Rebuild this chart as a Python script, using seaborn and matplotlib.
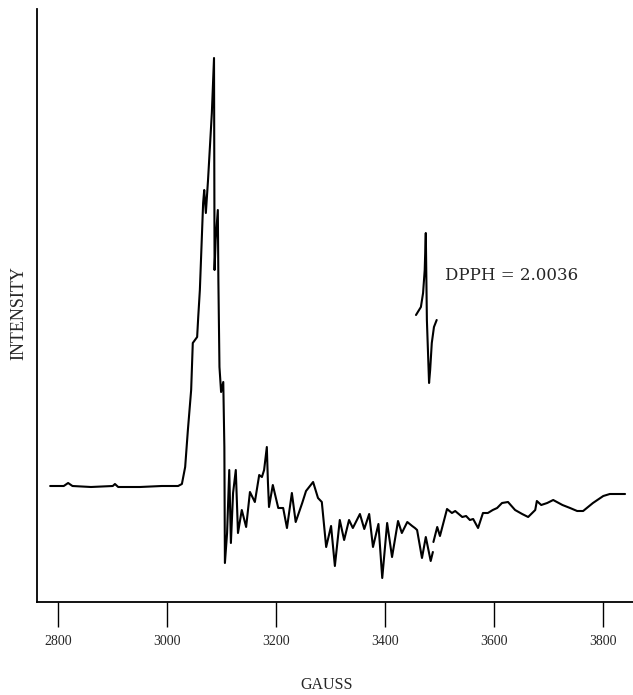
import matplotlib
matplotlib.use("Agg")
import matplotlib.pyplot as plt
import numpy as np
import pandas as pd
import seaborn as sns

# main spectrum, first trace (field in gauss, intensity in arbitrary units)
gauss_a = [2785, 2810, 2818, 2826, 2860, 2900, 2904, 2910, 2950, 2990, 3020, 3027,
           3033, 3038, 3044, 3047, 3055, 3057, 3060, 3066, 3068, 3071, 3075, 3082,
           3086, 3087, 3089, 3093, 3094, 3096, 3099, 3103, 3105, 3106, 3110, 3114,
           3117, 3121, 3126, 3130, 3137, 3145, 3152, 3161, 3169, 3174, 3178, 3183,
           3185, 3187, 3194, 3204, 3213, 3220, 3229, 3236, 3248, 3255, 3268, 3277,
           3284, 3292, 3301, 3308, 3317, 3325, 3334, 3341, 3354, 3362, 3371, 3378,
           3388, 3395, 3404, 3413, 3424, 3431, 3441, 3450, 3455, 3459, 3468, 3475,
           3484, 3488]
inten_a = [116, 116, 119, 116, 115, 116, 118, 115, 115, 116, 116, 118,
           135, 172, 212, 259, 265, 285, 312, 399, 412, 389, 422, 489,
           544, 332, 362, 392, 322, 235, 210, 220, 155, 39, 69, 132,
           59, 109, 132, 69, 92, 75, 110, 100, 127, 125, 132, 155,
           120, 95, 117, 94, 94, 74, 109, 80, 99, 111, 120, 104,
           100, 55, 76, 36, 82, 62, 82, 74, 88, 73, 88, 55,
           78, 24, 79, 45, 81, 69, 80, 76, 74, 72, 44, 65,
           41, 50]

# second trace after the pen break
gauss_b = [3489, 3496, 3501, 3514, 3523, 3529, 3542, 3549, 3556, 3562, 3571, 3580,
           3589, 3598, 3606, 3615, 3626, 3639, 3652, 3663, 3676, 3679, 3687, 3698,
           3709, 3726, 3740, 3753, 3764, 3782, 3801, 3813, 3841]
inten_b = [60, 75, 66, 93, 89, 91, 85, 86, 82, 83, 74, 89,
           89, 92, 94, 99, 100, 92, 88, 85, 92, 101, 97, 99,
           102, 97, 94, 91, 91, 99, 106, 108, 108]

# DPPH reference signal
gauss_dpph = [3457, 3466, 3470, 3473, 3475, 3477, 3481, 3483, 3486, 3490, 3495]
inten_dpph = [287, 295, 309, 332, 369, 282, 219, 232, 259, 275, 282]

xticks = [2800, 3000, 3200, 3400, 3600, 3800]

sns.set_style("ticks")
plt.rcParams["font.family"] = ["Liberation Serif", "DejaVu Serif"]

fig = plt.figure(figsize=(6.33, 6.95), dpi=100)
ax = fig.add_axes([37.3/633, 93/695, 1 - 37.3/633, 593/695])

for gx, gy in [(gauss_a, inten_a), (gauss_b, inten_b), (gauss_dpph, inten_dpph)]:
    df = pd.DataFrame({"gauss": gx, "intensity": gy})
    sns.lineplot(data=df, x="gauss", y="intensity", ax=ax, color="black",
                 lw=1.5, sort=False, estimator=None)

ax.set_xlim(2761.4, 3855.6)
ax.set_ylim(0, 593)
ax.set_xticks(xticks)
ax.set_xticklabels([str(t) for t in xticks], fontsize=10)
ax.set_yticks([])
ax.tick_params(axis="x", direction="out", length=18, width=1.0, pad=6, color="black")
sns.despine(ax=ax)
ax.spines["left"].set_linewidth(1.3)
ax.spines["bottom"].set_linewidth(1.3)
ax.spines["left"].set_color("black")
ax.spines["bottom"].set_color("black")

ax.set_xlabel("GAUSS", fontsize=11.5)
ax.xaxis.set_label_coords(0.4855, -0.126)
ax.set_ylabel("INTENSITY", fontsize=13)
ax.yaxis.set_label_coords(-0.0173, 0.487)

ax.text(3510, 327, "DPPH = 2.0036", fontsize=12, va="center", ha="left",
        family="DejaVu Serif")

fig.savefig("out.png", dpi=100)
